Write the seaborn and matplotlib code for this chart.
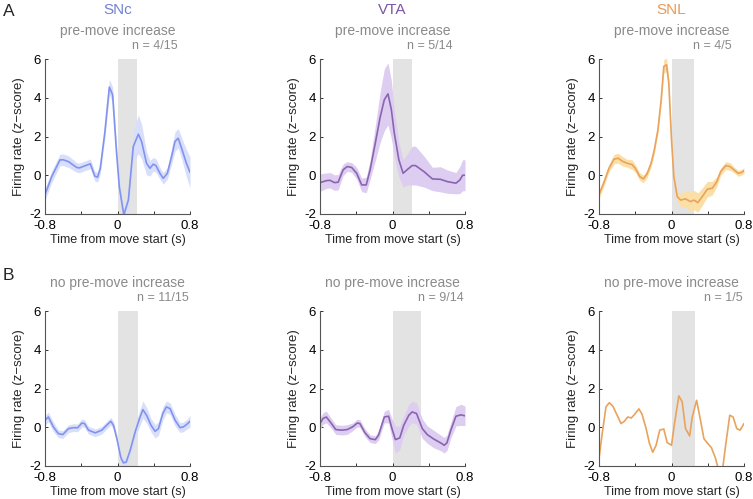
import matplotlib

matplotlib.use("Agg")
import matplotlib.pyplot as plt
import numpy as np
import pandas as pd
import seaborn as sns

# ---- data ---------------------------------------------------------------
snc_up_t = [-0.8, -0.726, -0.635, -0.6, -0.54, -0.45, -0.42, -0.34, -0.30, -0.25, -0.22, -0.19,
            -0.14, -0.09, -0.054, -0.01, 0.02, 0.07, 0.12, 0.174, 0.23, 0.266, 0.32, 0.358,
            0.395, 0.424, 0.468, 0.505, 0.55, 0.597, 0.634, 0.67, 0.707, 0.76, 0.8]
snc_up_v = [-1.0, -0.07, 0.79, 0.8, 0.7, 0.4, 0.38, 0.52, 0.59, -0.05, -0.1, 0.36,
            2.2, 4.55, 4.15, 1.14, -0.6, -2.05, -1.28, 1.48, 2.12, 1.74, 0.62, 0.36,
            0.57, 0.5, 0.1, -0.16, 0.1, 0.97, 1.74, 1.91, 1.4, 0.62, 0.15]
snc_up_e = [0.3, 0.3, 0.3, 0.3, 0.3, 0.25, 0.25, 0.25, 0.25, 0.25, 0.25, 0.3,
            0.3, 0.4, 0.4, 0.4, 0.4, 0.35, 0.5, 0.8, 1.0, 0.9, 0.6, 0.4,
            0.35, 0.35, 0.3, 0.3, 0.3, 0.4, 0.5, 0.5, 0.55, 0.7, 0.8]

vta_up_t = [-0.8, -0.73, -0.69, -0.64, -0.6, -0.545, -0.5, -0.45, -0.395, -0.34, -0.29, -0.247,
            -0.19, -0.136, -0.09, -0.05, -0.013, 0.02, 0.07, 0.117, 0.16, 0.217, 0.254, 0.347,
            0.44, 0.53, 0.606, 0.7, 0.744, 0.774, 0.8]
vta_up_v = [-0.38, -0.28, -0.26, -0.38, -0.36, 0.28, 0.45, 0.4, 0.1, -0.5, -0.5, 0.28,
            1.65, 3.0, 3.9, 4.2, 3.4, 2.17, 0.8, 0.1, 0.28, 0.5, 0.5, 0.19,
            -0.19, -0.21, -0.33, -0.41, -0.24, 0.0, 0.0]
vta_up_e = [0.45, 0.4, 0.4, 0.4, 0.4, 0.3, 0.25, 0.25, 0.3, 0.35, 0.4, 0.5,
            0.9, 1.3, 1.6, 1.6, 1.5, 1.2, 0.9, 0.7, 0.8, 1.0, 1.0, 0.8,
            0.6, 0.65, 0.6, 0.55, 0.7, 0.8, 0.8]

snl_up_t = [-0.8, -0.748, -0.69, -0.635, -0.59, -0.54, -0.49, -0.435, -0.4, -0.35, -0.31, -0.27,
            -0.225, -0.19, -0.15, -0.114, -0.085, -0.055, -0.03, 0.0, 0.026, 0.063, 0.1, 0.155,
            0.21, 0.247, 0.29, 0.34, 0.395, 0.45, 0.5, 0.543, 0.6, 0.646, 0.69, 0.734, 0.77, 0.8]
snl_up_v = [-1.0, -0.4, 0.36, 0.83, 0.88, 0.72, 0.62, 0.55, 0.36, -0.07, -0.19, 0.07,
            0.62, 1.3, 2.35, 3.9, 5.62, 5.7, 4.76, 1.83, -0.07, -1.1, -1.28, -1.22,
            -1.36, -1.28, -1.41, -1.1, -0.72, -0.67, -0.33, 0.19, 0.5, 0.45, 0.28, 0.1, 0.14, 0.24]
snl_up_e = [0.2, 0.2, 0.2, 0.25, 0.25, 0.25, 0.2, 0.25, 0.2, 0.2, 0.2, 0.2,
            0.2, 0.2, 0.2, 0.25, 0.35, 0.35, 0.3, 0.25, 0.2, 0.25, 0.35, 0.4,
            0.5, 0.5, 0.5, 0.45, 0.4, 0.35, 0.25, 0.2, 0.2, 0.2, 0.15, 0.15, 0.15, 0.15]

snc_no_t = [-0.8, -0.763, -0.708, -0.653, -0.605, -0.54, -0.485, -0.44, -0.393, -0.364, -0.32, -0.246,
            -0.173, -0.11, -0.074, -0.044, -0.007, 0.037, 0.066, 0.096, 0.14, 0.195, 0.243, 0.28,
            0.324, 0.37, 0.415, 0.452, 0.5, 0.54, 0.58, 0.636, 0.69, 0.727, 0.765, 0.8]
snc_no_v = [0.36, 0.53, 0.02, -0.33, -0.38, -0.07, -0.02, -0.03, 0.22, 0.19, -0.15, -0.29,
            -0.15, 0.15, 0.31, 0.1, -0.59, -1.57, -1.84, -1.8, -1.19, -0.24, 0.45, 0.91,
            0.59, 0.1, -0.21, -0.07, 0.71, 1.05, 0.96, 0.36, -0.02, 0.02, 0.15, 0.31]
snc_no_e = [0.25, 0.25, 0.25, 0.2, 0.2, 0.2, 0.2, 0.2, 0.2, 0.2, 0.2, 0.2,
            0.2, 0.2, 0.2, 0.2, 0.2, 0.2, 0.2, 0.2, 0.25, 0.3, 0.4, 0.45,
            0.4, 0.35, 0.35, 0.35, 0.35, 0.3, 0.3, 0.3, 0.25, 0.25, 0.25, 0.3]

vta_no_t = [-0.8, -0.767, -0.73, -0.674, -0.626, -0.56, -0.5, -0.44, -0.388, -0.36, -0.303, -0.247,
            -0.19, -0.154, -0.09, -0.043, -0.006, 0.032, 0.08, 0.124, 0.18, 0.217, 0.265, 0.329,
            0.384, 0.459, 0.533, 0.57, 0.6, 0.644, 0.7, 0.755, 0.8]
vta_no_v = [0.19, 0.45, 0.53, 0.19, -0.12, -0.15, -0.12, 0.02, 0.22, 0.19, -0.29, -0.59,
            -0.64, -0.41, 0.53, 0.57, -0.07, -0.64, -0.55, 0.1, 0.62, 0.79, 0.71, -0.07,
            -0.38, -0.62, -0.81, -0.93, -0.81, -0.15, 0.57, 0.64, 0.59]
vta_no_e = [0.3, 0.3, 0.3, 0.25, 0.25, 0.25, 0.25, 0.2, 0.2, 0.2, 0.2, 0.2,
            0.2, 0.25, 0.3, 0.35, 0.5, 0.7, 0.6, 0.5, 0.55, 0.55, 0.55, 0.5,
            0.45, 0.45, 0.4, 0.4, 0.4, 0.4, 0.5, 0.55, 0.5]

snl_no_t = [-0.8, -0.767, -0.723, -0.686, -0.646, -0.6, -0.557, -0.52, -0.483, -0.443, -0.41, -0.36,
            -0.325, -0.28, -0.243, -0.207, -0.17, -0.13, -0.085, -0.048, 0.0, 0.033, 0.081, 0.118,
            0.155, 0.2, 0.229, 0.277, 0.32, 0.358, 0.395, 0.44, 0.487, 0.524, 0.56, 0.6, 0.643,
            0.68, 0.72, 0.757, 0.8]
snl_no_v = [-1.62, -0.41, 1.05, 1.27, 1.08, 0.62, 0.19, 0.31, 0.53, 0.48, 0.65, 0.95,
            0.67, -0.07, -0.84, -1.29, -0.93, -0.15, -0.09, -0.79, -0.93, 0.19, 1.62, 1.31,
            -0.07, -0.45, 0.53, 1.39, 0.36, -0.59, -0.81, -1.05, -1.62, -2.3, -2.3, -0.84, 0.62,
            0.53, -0.07, -0.15, 0.19]

regions = ["SNc", "VTA", "SNL"]
groups = ["pre-move increase", "no pre-move increase"]
counts = [["n = 4/15", "n = 5/14", "n = 4/5"],
          ["n = 11/15", "n = 9/14", "n = 1/5"]]
move_end = [[0.22, 0.22, 0.25], [0.23, 0.31, 0.26]]

traces = [
    [(snc_up_t, snc_up_v, snc_up_e), (vta_up_t, vta_up_v, vta_up_e), (snl_up_t, snl_up_v, snl_up_e)],
    [(snc_no_t, snc_no_v, snc_no_e), (vta_no_t, vta_no_v, vta_no_e), (snl_no_t, snl_no_v, None)],
]

line_colors = ["#8193ee", "#8a64b0", "#e9a35c"]
band_colors = ["#d9dffb", "#ddcdf1", "#fae0a6"]
title_colors = ["#7282d0", "#7d55a8", "#e89a55"]

# ---- figure ----------------------------------------------------------------
sns.set_style("ticks")
plt.rcParams["font.family"] = ["Liberation Sans", "DejaVu Sans"]
plt.rcParams["axes.unicode_minus"] = False

fig = plt.figure(figsize=(7.53, 4.99), dpi=100)

lefts = [45 / 753, 320 / 753, 599 / 753]
width = 145 / 753
bottoms = [1 - 214 / 499, 1 - 466 / 499]
height = 155 / 499

for r in range(2):
    for c in range(3):
        ax = fig.add_axes([lefts[c], bottoms[r], width, height])
        t, v, e = traces[r][c]
        df = pd.DataFrame({"t": t, "v": v})
        ax.axvspan(0, move_end[r][c], color="#e3e3e3", lw=0, zorder=0)
        if e is not None:
            lo = np.array(v) - np.array(e)
            hi = np.array(v) + np.array(e)
            ax.fill_between(t, lo, hi, color=band_colors[c], lw=0, zorder=1)
        sns.lineplot(data=df, x="t", y="v", ax=ax, color=line_colors[c], lw=1.2, zorder=2)

        ax.set_xlim(-0.8, 0.8)
        ax.set_ylim(-2, 6)
        ax.set_xticks([-0.8, -0.4, 0, 0.4, 0.8])
        ax.set_xticklabels(["-0.8", "", "0", "", "0.8"])
        ax.set_yticks([-2, 0, 2, 4, 6])
        ax.set_yticklabels(["-2", "0", "2", "4", "6"])
        ax.tick_params(direction="in", length=2.5, width=0.7, labelsize=9.5,
                       colors="#333333", labelcolor="black")
        ax.tick_params(axis="x", pad=4.5)
        ax.tick_params(axis="y", pad=3)
        for side in ["top", "right"]:
            ax.spines[side].set_visible(False)
        for side in ["left", "bottom"]:
            ax.spines[side].set_color("#555555")
            ax.spines[side].set_linewidth(0.8)
        ax.set_xlabel("Time from move start (s)", fontsize=9, labelpad=1.5)
        ax.set_ylabel("Firing rate (z\u2212score)", fontsize=9.5, labelpad=3)

        ax.text(0.5, 1.0 + 28 / 155, groups[r], transform=ax.transAxes,
                ha="center", va="center", fontsize=10, color="#8a8a8a")
        n_x = 0.917 if r == 0 else 0.993
        ax.text(n_x, 1.0 + 13 / 155, counts[r][c], transform=ax.transAxes,
                ha="right", va="center", fontsize=9, color="#8a8a8a")
        if r == 0:
            ax.text(0.5, 1.0 + 49 / 155, regions[c], transform=ax.transAxes,
                    ha="center", va="center", fontsize=11, color=title_colors[c])

fig.text(3 / 753, 1 - 11 / 499, "A", ha="left", va="center", fontsize=12.5)
fig.text(3 / 753, 1 - 275 / 499, "B", ha="left", va="center", fontsize=12.5)

fig.savefig("out.png", dpi=100)
